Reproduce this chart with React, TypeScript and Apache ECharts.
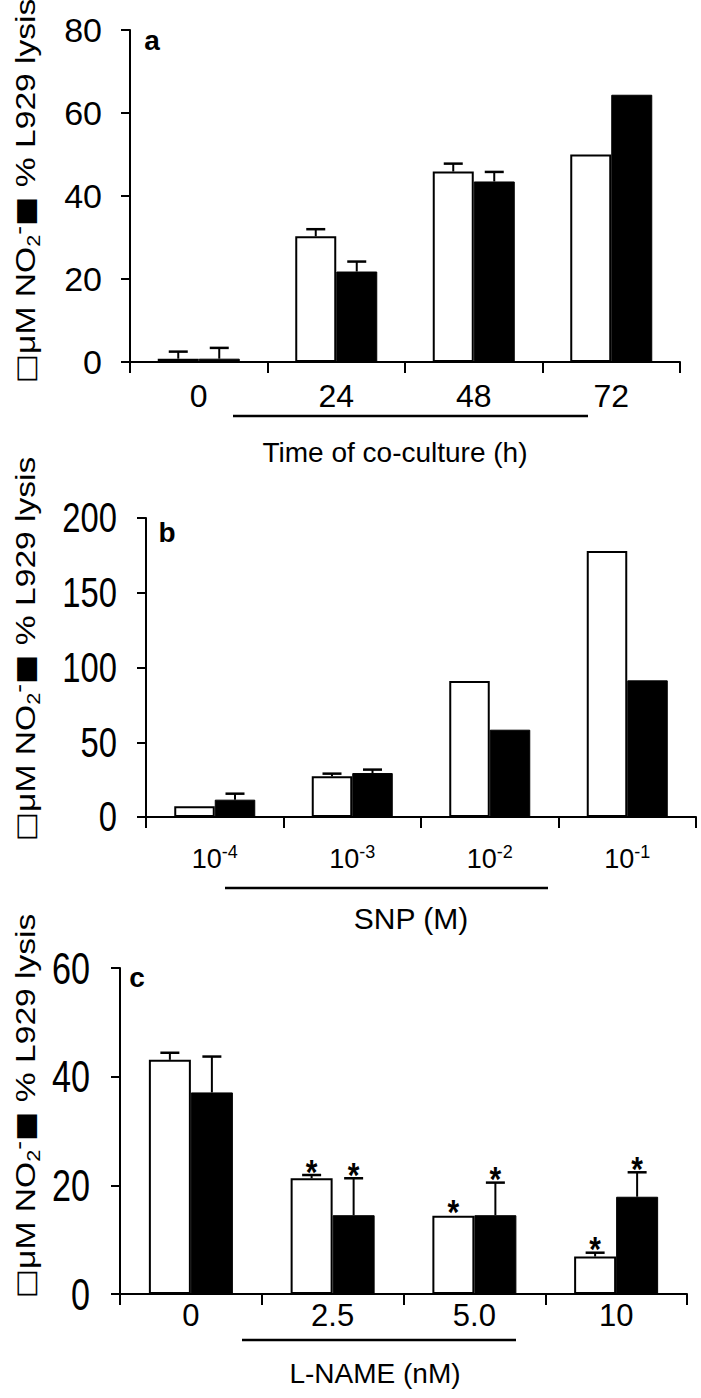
import React, { useEffect, useRef } from 'react';
import * as echarts from 'echarts';

// ---------- data ----------
const aCategories = ['0', '24', '48', '72'];
const aNitrite = [0.8, 30.3, 45.9, 50.0];
const aNitriteErr = [1.7, 1.7, 1.9, 0];
const aLysis = [0.8, 21.8, 43.5, 64.4];
const aLysisErr = [2.6, 2.4, 2.3, 0];
const aYTicks = [0, 20, 40, 60, 80];

const bCategories = ['10^-4', '10^-3', '10^-2', '10^-1'];
const bNitrite = [7.2, 27.2, 91, 178];
const bNitriteErr = [0, 1.8, 0, 0];
const bLysis = [11.6, 29.4, 58.4, 91.4];
const bLysisErr = [4.0, 2.3, 0, 0];
const bYTicks = [0, 50, 100, 150, 200];

const cCategories = ['0', '2.5', '5.0', '10'];
const cNitrite = [43.1, 21.3, 14.4, 6.9];
const cNitriteErr = [1.3, 0.6, 0, 0.7];
const cNitriteSig = [0, 1, 1, 1];
const cLysis = [37.1, 14.5, 14.5, 17.9];
const cLysisErr = [6.6, 6.8, 6.0, 4.5];
const cLysisSig = [0, 1, 1, 1];
const cYTicks = [0, 20, 40, 60];

const yTitle = ['□', 'μM NO', '2', '-', '■', ' % L929 lysis'];
const xTitles = ['Time of co-culture (h)', 'SNP (M)', 'L-NAME (nM)'];
const panelLetters = ['a', 'b', 'c'];

const FONT = 'Liberation Sans, Arial, sans-serif';

function errorSeries(g: number, cats: string[], vals: number[], errs: number[], sigs: number[] | null, side: number, barW: number) {
  return {
    type: 'custom',
    xAxisIndex: g,
    yAxisIndex: g,
    z: 5,
    silent: true,
    data: cats.map((_, i) => [i, vals[i], errs[i], sigs ? sigs[i] : 0]),
    renderItem: (params: any, api: any) => {
      const i = api.value(0);
      const v = api.value(1);
      const e = api.value(2);
      const s = api.value(3);
      const base = api.coord([i, v]);
      const x = base[0] + side * barW / 2;
      const children: any[] = [];
      let topY = base[1];
      if (e > 0) {
        const top = api.coord([i, v + e]);
        children.push({ type: 'line', shape: { x1: x, y1: base[1], x2: x, y2: top[1] }, style: { stroke: '#000', lineWidth: 2 } });
        children.push({ type: 'line', shape: { x1: x - 9.5, y1: top[1], x2: x + 9.5, y2: top[1] }, style: { stroke: '#000', lineWidth: 2.5 } });
        topY = top[1];
      }
      if (s) {
        children.push({
          type: 'text',
          x: x,
          y: topY - 3,
          scaleY: 1.15,
          style: { text: '*', font: 'bold 30px ' + FONT, fill: '#000', align: 'center', verticalAlign: 'middle', textAlign: 'center', textVerticalAlign: 'middle' },
        });
      }
      return { type: 'group', children };
    },
  };
}

// condensed y tick labels, placed through the axis scale
function tickLabelSeries(g: number, ticks: number[], fontSize: number, scaleX: number, margin: number) {
  return {
    type: 'custom',
    xAxisIndex: g,
    yAxisIndex: g,
    z: 5,
    silent: true,
    clip: false,
    data: ticks.map((t) => [0, t]),
    renderItem: (params: any, api: any) => {
      const v = api.value(1);
      const p = api.coord([0, v]);
      const cs = params.coordSys;
      return {
        type: 'text',
        x: cs.x - margin,
        y: p[1],
        scaleX,
        style: { text: String(v), x: 0, y: 0, font: fontSize + 'px ' + FONT, fill: '#000', align: 'right', verticalAlign: 'middle', textAlign: 'right', textVerticalAlign: 'middle' },
      };
    },
  };
}

function barPair(g: number, white: number[], black: number[], w: number) {
  return [
    { type: 'bar', xAxisIndex: g, yAxisIndex: g, data: white, barWidth: w, barGap: '0%', itemStyle: { color: '#fff', borderColor: '#000', borderWidth: 2 } },
    { type: 'bar', xAxisIndex: g, yAxisIndex: g, data: black, barWidth: w, barGap: '0%', itemStyle: { color: '#000', borderColor: '#000', borderWidth: 1 } },
  ];
}

const axisLineStyle = { lineStyle: { color: '#000', width: 2 } };

function yAxisDef(g: number, ticks: number[], label: any) {
  return {
    type: 'value', gridIndex: g, min: ticks[0], max: ticks[ticks.length - 1], interval: ticks[1] - ticks[0],
    axisLine: { show: true, ...axisLineStyle },
    axisTick: { show: true, length: 9, lineStyle: { color: '#000', width: 2 } },
    splitLine: { show: false },
    axisLabel: { color: '#000', ...label },
  };
}

function xAxisDef(g: number, cats: string[], label: any) {
  return {
    type: 'category', gridIndex: g, data: cats,
    axisLine: { show: true, ...axisLineStyle },
    axisTick: { show: true, length: 11, lineStyle: { color: '#000', width: 2 } },
    axisLabel: { color: '#000', ...label },
  };
}

function yTitleGraphic(x: number, y: number) {
  return {
    type: 'text', x, y, rotation: Math.PI / 2, scaleX: 1.2,
    style: {
      text: `{sq|${yTitle[0]}}{n|${yTitle[1]}}{sub|${yTitle[2]}}{sup|${yTitle[3]}}{sq|${yTitle[4]}}{n|${yTitle[5]}}`,
      x: 0, y: 0,
      align: 'center', verticalAlign: 'middle', textAlign: 'center', textVerticalAlign: 'middle',
      fill: '#000',
      rich: {
        n: { fontSize: 28, fontFamily: FONT, lineHeight: 36, fill: '#000', color: '#000' },
        sq: { fontSize: 26, fontFamily: 'DejaVu Sans, sans-serif', lineHeight: 36, fill: '#000', color: '#000' },
        sub: { fontSize: 18, fontFamily: FONT, lineHeight: 14, verticalAlign: 'bottom', fill: '#000', color: '#000' },
        sup: { fontSize: 22, fontFamily: FONT, lineHeight: 14, verticalAlign: 'top', fill: '#000', color: '#000' },
      },
    },
  };
}

function textG(x: number, y: number, text: string, font: string) {
  return { type: 'text', x, y, style: { text, font, fill: '#000', align: 'center', verticalAlign: 'middle', textAlign: 'center', textVerticalAlign: 'middle' } };
}
function lineG(x1: number, x2: number, y: number) {
  return { type: 'line', shape: { x1, y1: y, x2, y2: y }, style: { stroke: '#000', lineWidth: 2.5 } };
}

export default function App() {
  const ref = useRef<HTMLDivElement>(null);
  useEffect(() => {
    if (!ref.current) return;
    const chart = echarts.init(ref.current, undefined, { renderer: 'svg' });
    const option: any = {
      animation: false,
      backgroundColor: '#fff',
      grid: [
        { left: 130, top: 30, width: 550, height: 332 },
        { left: 146, top: 518, width: 550, height: 299 },
        { left: 120, top: 968, width: 567, height: 326 },
      ],
      xAxis: [
        xAxisDef(0, aCategories, { fontSize: 32, fontFamily: FONT, margin: 18 }),
        xAxisDef(1, bCategories, {
          margin: 26,
          formatter: (v: string) => { const p = v.split('^'); return `{b|${p[0]}}{s|${p[1]}}`; },
          rich: {
            b: { fontSize: 27, fontFamily: FONT, lineHeight: 32, color: '#000' },
            s: { fontSize: 18, fontFamily: FONT, lineHeight: 14, verticalAlign: 'top', color: '#000' },
          },
        }),
        xAxisDef(2, cCategories, { fontSize: 31, fontFamily: FONT, margin: 6 }),
      ],
      yAxis: [
        yAxisDef(0, aYTicks, { fontSize: 34, fontFamily: FONT, margin: 28 }),
        yAxisDef(1, bYTicks, { show: false }),
        yAxisDef(2, cYTicks, { show: false }),
      ],
      series: [
        ...barPair(0, aNitrite, aLysis, 41),
        errorSeries(0, aCategories, aNitrite, aNitriteErr, null, -1, 41),
        errorSeries(0, aCategories, aLysis, aLysisErr, null, 1, 41),
        ...barPair(1, bNitrite, bLysis, 40.5),
        errorSeries(1, bCategories, bNitrite, bNitriteErr, null, -1, 40.5),
        errorSeries(1, bCategories, bLysis, bLysisErr, null, 1, 40.5),
        tickLabelSeries(1, bYTicks, 42, 0.78, 29),
        ...barPair(2, cNitrite, cLysis, 42),
        errorSeries(2, cCategories, cNitrite, cNitriteErr, cNitriteSig, -1, 42),
        errorSeries(2, cCategories, cLysis, cLysisErr, cLysisSig, 1, 42),
        tickLabelSeries(2, cYTicks, 45, 0.76, 30),
      ],
      graphic: [
        yTitleGraphic(25, 191),
        yTitleGraphic(25, 649),
        yTitleGraphic(25, 1106),
        textG(152, 40, panelLetters[0], 'bold 28px ' + FONT),
        textG(167, 532, panelLetters[1], 'bold 28px ' + FONT),
        textG(137, 977, panelLetters[2], 'bold 28px ' + FONT),
        lineG(233, 588, 416),
        lineG(225, 548, 888),
        lineG(242, 516, 1340),
        textG(395, 452, xTitles[0], '28px ' + FONT),
        textG(411, 918, xTitles[1], '30px ' + FONT),
        textG(375, 1373, xTitles[2], '28px ' + FONT),
      ],
    };
    chart.setOption(option);
    return () => chart.dispose();
  }, []);
  return <div ref={ref} style={{ position: 'absolute', left: 0, top: 0, width: 701, height: 1398 }} />;
}
